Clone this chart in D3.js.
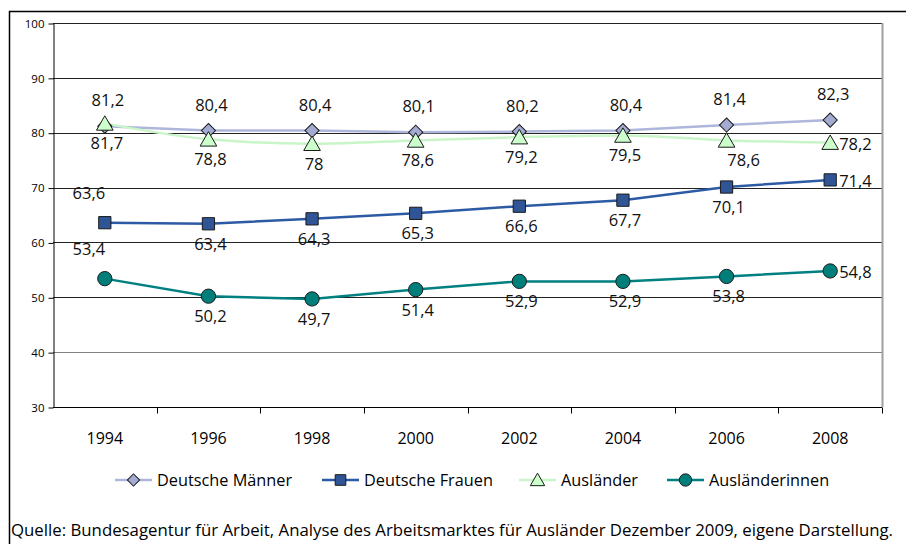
<!DOCTYPE html>
<html>
<head>
<meta charset="utf-8">
<script src="https://cdn.jsdelivr.net/npm/d3@7"></script>
<style>
  body { margin: 0; background: #fff; }
  svg { display: block; font-family: "Open Sans", "Noto Sans", sans-serif; }
</style>
</head>
<body>
<div id="chart"></div>
<script>
var years = ["1994", "1996", "1998", "2000", "2002", "2004", "2006", "2008"];
var yTicks = [30, 40, 50, 60, 70, 80, 90, 100];
var maenner = [81.2, 80.4, 80.4, 80.1, 80.2, 80.4, 81.4, 82.3];
var frauen = [63.6, 63.4, 64.3, 65.3, 66.6, 67.7, 70.1, 71.4];
var auslaender = [81.7, 78.8, 78, 78.6, 79.2, 79.5, 78.6, 78.2];
var auslaenderinnen = [53.4, 50.2, 49.7, 51.4, 52.9, 52.9, 53.8, 54.8];
var seriesNames = ["Deutsche Männer", "Deutsche Frauen", "Ausländer", "Ausländerinnen"];
var source = "Quelle: Bundesagentur für Arbeit, Analyse des Arbeitsmarktes für Ausländer Dezember 2009, eigene Darstellung.";

var width = 906, height = 544;
var plotLeft = 53, plotRight = 882, plotTop = 23, plotBottom = 407;

var svg = d3.select("#chart").append("svg")
    .attr("width", width)
    .attr("height", height);

// outer frame (top and left edge only)
svg.append("path")
    .attr("d", "M9.5,544V11.5H906")
    .attr("fill", "none")
    .attr("stroke", "#000")
    .attr("stroke-width", 1.5);

var x = d3.scaleBand().domain(years).range([plotLeft, plotRight]);
var y = d3.scaleLinear().domain([30, 100]).range([plotBottom, plotTop]);

// gridlines
svg.append("g")
    .selectAll("line")
    .data(yTicks.filter(function (d) { return d > 30; }))
    .enter()
    .append("line")
    .attr("x1", plotLeft).attr("x2", plotRight)
    .attr("y1", function (d) { return Math.round(y(d)) + 0.5; })
    .attr("y2", function (d) { return Math.round(y(d)) + 0.5; })
    .attr("stroke", function (d) { return d == 40 ? "#808080" : "#222"; })
    .attr("stroke-width", 1);

// right border of plot area
svg.append("line")
    .attr("x1", plotRight + 0.5).attr("x2", plotRight + 0.5)
    .attr("y1", plotTop).attr("y2", plotBottom)
    .attr("stroke", "#a0a0a0")
    .attr("stroke-width", 2);

// y axis
var yAxis = svg.append("g")
    .attr("transform", "translate(" + (plotLeft + 0.5) + ",0.5)")
    .call(d3.axisLeft(y).tickValues(yTicks).tickSize(5).tickPadding(4).tickSizeOuter(0));
yAxis.selectAll("text").style("font-size", "11.5px").style("font-family", "Open Sans").attr("fill", "#000");
yAxis.selectAll("line, path").attr("stroke", "#000");

// x axis: ticks on band boundaries
var xAxis = svg.append("g")
    .attr("transform", "translate(0," + (plotBottom + 0.5) + ")");
xAxis.append("line")
    .attr("x1", plotLeft).attr("x2", plotRight)
    .attr("stroke", "#000");
xAxis.selectAll("line.tick")
    .data(years)
    .enter()
    .append("line")
    .attr("class", "tick")
    .attr("x1", function (d) { return Math.round(x(d) + x.bandwidth()) + 0.5; })
    .attr("x2", function (d) { return Math.round(x(d) + x.bandwidth()) + 0.5; })
    .attr("y1", 0).attr("y2", 6)
    .attr("stroke", "#000");
xAxis.selectAll("text")
    .data(years)
    .enter()
    .append("text")
    .attr("x", function (d) { return x(d) + x.bandwidth() / 2; })
    .attr("y", 36)
    .attr("text-anchor", "middle")
    .style("font-size", "16px")
    .text(function (d) { return d; });

var cx = function (d, i) { return x(years[i]) + x.bandwidth() / 2; };

// diamond = square turned by 45 degrees (equal width and height)
var series = [
    { name: seriesNames[0], values: maenner, line: "#aeb6dc", fill: "#a3abd3", marker: d3.symbolSquare, rotate: 45, size: 100, curve: d3.curveLinear },
    { name: seriesNames[1], values: frauen, line: "#2d5aa5", fill: "#2f5597", marker: d3.symbolSquare, rotate: 0, size: 150, curve: d3.curveLinear },
    { name: seriesNames[2], values: auslaender, line: "#c9f5c9", fill: "#ccffcc", marker: d3.symbolTriangle, rotate: 0, size: 120, curve: d3.curveMonotoneX },
    { name: seriesNames[3], values: auslaenderinnen, line: "#008080", fill: "#007f7a", marker: d3.symbolCircle, rotate: 0, size: 160, curve: d3.curveLinear }
];

// draw lines first, then markers
series.forEach(function (s) {
    var line = d3.line()
        .x(cx)
        .y(function (d) { return y(d); })
        .curve(s.curve);
    svg.append("path")
        .datum(s.values)
        .attr("d", line)
        .attr("fill", "none")
        .attr("stroke", s.line)
        .attr("stroke-width", 2.5);
});

series.forEach(function (s) {
    svg.append("g")
        .selectAll("path")
        .data(s.values)
        .enter()
        .append("path")
        .attr("d", d3.symbol().type(s.marker).size(s.size))
        .attr("transform", function (d, i) {
            var dy = s.marker == d3.symbolTriangle ? 2 : 0;
            return "translate(" + cx(d, i) + "," + (y(d) + dy) + ") rotate(" + s.rotate + ")";
        })
        .attr("fill", s.fill)
        .attr("stroke", "#1a1a1a")
        .attr("stroke-width", 1);
});

// data labels: position per point
function labelPos(si, i) {
    if (i == 7 && si != 0) return "right";
    if (si == 0) return "above";
    if (si == 2) return i == 6 ? "belowright" : "below";
    if (i == 0) return "aboveleft";
    return "below";
}

function fmt(v) { return String(v).replace(".", ","); }

series.forEach(function (s, si) {
    svg.append("g")
        .selectAll("text")
        .data(s.values)
        .enter()
        .append("text")
        .style("font-size", "16.5px")
        .attr("fill", "#111")
        .each(function (d, i) {
            var p = labelPos(si, i);
            var px = cx(d, i), py = y(d);
            var t = d3.select(this);
            if (p == "above") {
                t.attr("x", px + 3).attr("y", py - 20).attr("text-anchor", "middle");
            } else if (p == "below") {
                t.attr("x", px + 2).attr("y", py + 26).attr("text-anchor", "middle");
            } else if (p == "belowright") {
                t.attr("x", px + 17).attr("y", py + 26).attr("text-anchor", "middle");
            } else if (p == "aboveleft") {
                t.attr("x", px - 16).attr("y", py - 24).attr("text-anchor", "middle");
            } else {
                t.attr("x", px + 9).attr("y", py + 7).attr("text-anchor", "start");
            }
        })
        .text(fmt);
});

// legend
var legendX = [115, 322, 519, 667];
var legend = svg.append("g").attr("transform", "translate(0,480)");
series.forEach(function (s, i) {
    var g = legend.append("g").attr("transform", "translate(" + legendX[i] + ",0)");
    g.append("line")
        .attr("x1", 0).attr("x2", 37)
        .attr("stroke", s.line)
        .attr("stroke-width", 2.5);
    g.append("path")
        .attr("d", d3.symbol().type(s.marker).size(s.size * 0.75))
        .attr("transform", "translate(18.5," + (s.marker == d3.symbolTriangle ? 1.5 : 0) + ") rotate(" + s.rotate + ")")
        .attr("fill", s.fill)
        .attr("stroke", "#1a1a1a")
        .attr("stroke-width", 1);
    g.append("text")
        .attr("x", 42)
        .attr("y", 6)
        .style("font-size", "16.3px")
        .text(s.name);
});

// source line
svg.append("text")
    .attr("x", 11)
    .attr("y", 536)
    .attr("textLength", 882)
    .attr("lengthAdjust", "spacingAndGlyphs")
    .style("font-size", "16px")
    .text(source);
</script>
</body>
</html>
